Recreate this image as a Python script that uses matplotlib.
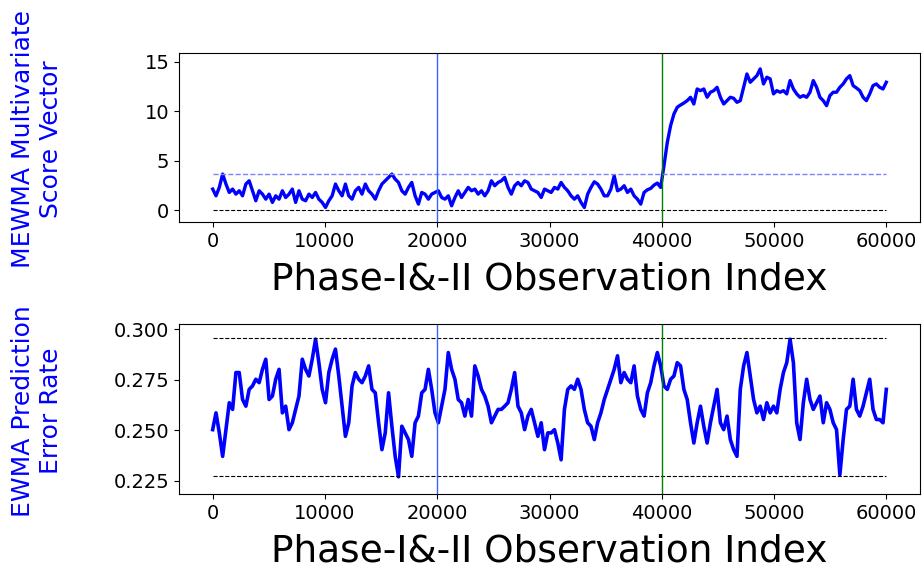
import numpy as np
import matplotlib
matplotlib.use("Agg")
import matplotlib.pyplot as plt

# MEWMA multivariate score vector, sampled roughly every 296 observations
mewma_score = [
    2.13, 1.45, 2.30, 3.65, 2.64, 1.79, 2.13, 1.62, 1.96, 1.45,
    2.64, 2.97, 1.96, 0.95, 1.96, 1.62, 1.11, 1.62, 0.78, 1.45,
    1.11, 1.96, 1.28, 1.62, 2.13, 0.78, 1.96, 1.11, 0.95, 1.62,
    1.28, 1.79, 1.11, 0.78, 0.27, 0.95, 1.45, 2.64, 1.96, 1.45,
    2.64, 1.45, 1.11, 1.96, 2.30, 1.62, 2.64, 1.96, 1.62, 1.11,
    1.96, 2.64, 2.97, 3.31, 3.65, 3.14, 2.80, 1.96, 1.62, 2.30,
    2.80, 1.45, 0.61, 1.79, 1.62, 1.11, 1.62, 1.79, 1.96, 1.28,
    1.11, 1.45, 0.44, 1.28, 1.96, 1.28, 1.79, 2.30, 1.96, 2.13,
    1.62, 1.96, 1.45, 1.96, 2.97, 2.47, 2.80, 2.97, 3.31, 2.30,
    1.62, 2.47, 2.80, 2.47, 2.97, 2.80, 2.13, 1.96, 1.79, 1.28,
    2.13, 1.96,
    1.79, 2.30, 2.13, 2.80, 2.30, 1.96, 1.45, 1.11, 1.45, 0.78,
    0.27, 1.62, 2.30, 2.87, 2.64, 2.13, 1.45, 1.45, 2.13, 3.48,
    1.96, 2.13, 2.47, 1.79, 2.13, 1.45, 1.11, 0.61, 1.79, 2.06,
    2.20, 2.53, 2.74, 2.30, 4.49, 6.86, 8.55, 9.73, 10.41, 10.64,
    10.84, 11.08, 11.42, 10.74, 12.26, 12.09, 12.26, 11.42, 11.93, 12.09,
    12.43, 11.42, 10.74, 11.08, 11.42, 11.32, 10.91, 11.08, 12.43, 13.78,
    12.94, 13.28, 13.61, 14.29, 12.77, 13.45, 13.28, 11.76, 12.09, 11.93,
    12.09, 11.76, 13.11, 12.26, 11.76, 11.42, 11.59, 11.42, 11.93, 13.11,
    12.43, 11.42, 11.08, 10.57, 11.59, 11.93, 11.93, 12.43, 12.77, 13.28,
    13.61, 12.60, 12.36, 12.09, 11.42, 11.08, 11.76, 12.60, 12.77, 12.43,
    12.26, 12.94,
]

# EWMA prediction error rate, same sampling
ewma_error = [
    0.2503, 0.2586, 0.2487, 0.2371, 0.2503, 0.2636, 0.2603, 0.2785, 0.2785, 0.2652,
    0.2619, 0.2702, 0.2719, 0.2752, 0.2735, 0.2801, 0.2851, 0.2652, 0.2669, 0.2752,
    0.2801, 0.2586, 0.2619, 0.2503, 0.2537, 0.2603, 0.2669, 0.2851, 0.2801, 0.2768,
    0.2851, 0.2950, 0.2834, 0.2702, 0.2636, 0.2785, 0.2851, 0.2901, 0.2768, 0.2619,
    0.2470, 0.2537, 0.2719, 0.2785, 0.2752, 0.2735, 0.2768, 0.2818, 0.2702, 0.2685,
    0.2537, 0.2404, 0.2487, 0.2685, 0.2520, 0.2371, 0.2270, 0.2520, 0.2487, 0.2454,
    0.2371, 0.2537, 0.2570, 0.2685, 0.2702, 0.2801, 0.2702, 0.2586, 0.2537, 0.2619,
    0.2702, 0.2884, 0.2801, 0.2752, 0.2652, 0.2636, 0.2570, 0.2652, 0.2570, 0.2818,
    0.2768, 0.2702, 0.2669, 0.2619, 0.2537, 0.2570, 0.2603, 0.2603, 0.2619, 0.2636,
    0.2702, 0.2785, 0.2619, 0.2586, 0.2503, 0.2570, 0.2603, 0.2537, 0.2470, 0.2537,
    0.2404, 0.2487,
    0.2487, 0.2503, 0.2437, 0.2354, 0.2603, 0.2702, 0.2719, 0.2702, 0.2752, 0.2702,
    0.2603, 0.2537, 0.2520, 0.2454, 0.2537, 0.2586, 0.2652, 0.2702, 0.2752, 0.2801,
    0.2868, 0.2735, 0.2785, 0.2752, 0.2735, 0.2818, 0.2669, 0.2603, 0.2570, 0.2685,
    0.2735, 0.2818, 0.2884, 0.2818, 0.2719, 0.2702, 0.2752, 0.2768, 0.2834, 0.2818,
    0.2702, 0.2652, 0.2537, 0.2437, 0.2537, 0.2619, 0.2520, 0.2437, 0.2537, 0.2619,
    0.2702, 0.2537, 0.2503, 0.2570, 0.2454, 0.2404, 0.2371, 0.2702, 0.2818, 0.2884,
    0.2768, 0.2652, 0.2586, 0.2619, 0.2553, 0.2636, 0.2586, 0.2619, 0.2586, 0.2702,
    0.2785, 0.2834, 0.2950, 0.2834, 0.2537, 0.2454, 0.2636, 0.2752, 0.2652, 0.2603,
    0.2636, 0.2669, 0.2537, 0.2636, 0.2603, 0.2537, 0.2503, 0.2280, 0.2454, 0.2603,
    0.2619, 0.2752, 0.2603, 0.2570, 0.2619, 0.2685, 0.2752, 0.2603, 0.2553, 0.2553,
    0.2537, 0.2702,
]

n_obs = 60000
phase_change = [20000, 40000]
mewma_ucl, mewma_lcl = 3.7, 0.0
ewma_ucl, ewma_lcl = 0.2954, 0.2272

obs_idx = np.linspace(0, n_obs - 1, len(mewma_score))
obs_idx2 = np.linspace(0, n_obs - 1, len(ewma_error))

fig = plt.figure(figsize=(9.22, 5.75), dpi=100)
ax1 = fig.add_axes([179 / 922, 1 - 222 / 575, 741 / 922, 169 / 575])
ax2 = fig.add_axes([179 / 922, 1 - 494 / 575, 741 / 922, 170 / 575])

xlabel = "Phase-I&-II Observation Index"

# top: MEWMA
ax1.plot(obs_idx, mewma_score, color="blue", lw=2.4)
ax1.hlines(mewma_ucl, 0, n_obs, colors="#7f7fff", linestyles="--", lw=1)
ax1.hlines(mewma_lcl, 0, n_obs, colors="black", linestyles="--", lw=0.8)
ax1.axvline(phase_change[0], color="#3366ff", lw=1)
ax1.axvline(phase_change[1], color="green", lw=1)
ax1.set_xlim(-3000, 63000)
ax1.set_ylim(-1.2, 15.9)
ax1.set_yticks([0, 5, 10, 15])

# bottom: EWMA
ax2.plot(obs_idx2, ewma_error, color="blue", lw=2.6)
ax2.hlines([ewma_ucl, ewma_lcl], 0, n_obs, colors="black", linestyles="--", lw=0.8)
ax2.axvline(phase_change[0], color="#3366ff", lw=1)
ax2.axvline(phase_change[1], color="green", lw=1)
ax2.set_xlim(-3000, 63000)
ax2.set_ylim(0.2185, 0.3025)
ax2.set_yticks([0.225, 0.250, 0.275, 0.300])
ax2.set_yticklabels(["0.225", "0.250", "0.275", "0.300"])

for ax in (ax1, ax2):
    ax.set_xticks([0, 10000, 20000, 30000, 40000, 50000, 60000])
    ax.tick_params(labelsize=14)
    ax.set_xlabel(xlabel, fontsize=27, labelpad=8)

fig.text(37 / 922, 1 - 139 / 575, "MEWMA Multivariate\nScore Vector", rotation=90,
         ha="center", va="center", ma="center", fontsize=18, color="blue")
fig.text(37 / 922, 1 - 411 / 575, "EWMA Prediction\nError Rate", rotation=90,
         ha="center", va="center", ma="center", fontsize=18, color="blue")

fig.savefig("out.png", dpi=100)
